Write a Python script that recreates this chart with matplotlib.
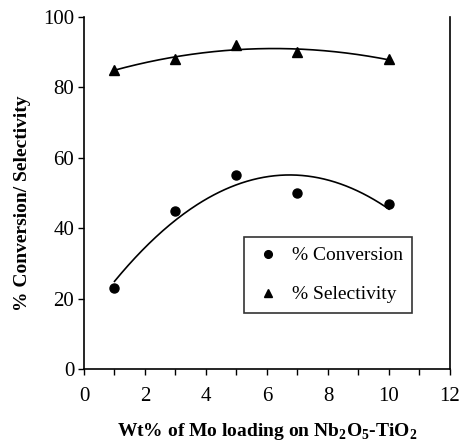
import numpy as np
import matplotlib
matplotlib.use('Agg')
import matplotlib.pyplot as plt

plt.rcParams['font.family'] = ['Liberation Serif', 'DejaVu Serif']
plt.rcParams['mathtext.fontset'] = 'custom'
plt.rcParams['mathtext.rm'] = 'Liberation Serif'
plt.rcParams['mathtext.bf'] = 'Liberation Serif:bold'

mo_loading = [1, 3, 5, 7, 10]
conversion = [23, 45, 55, 50, 47]
selectivity = [85, 88, 92, 90, 88]

fig = plt.figure(figsize=(4.6, 4.41), dpi=100)
ax = fig.add_axes([84 / 460, 1 - 369 / 441, 366 / 460, 352 / 441])

# 二次趨勢線
xs = np.linspace(1, 10, 200)
c_fit = np.polyfit(mo_loading, conversion, 2)
s_fit = np.polyfit(mo_loading, selectivity, 2)
ax.plot(xs, np.polyval(c_fit, xs), color='black', lw=1.2)
ax.plot(xs, np.polyval(s_fit, xs), color='black', lw=1.2)

ax.plot(mo_loading, conversion, 'o', color='black', ms=6.5, label='% Conversion')
ax.plot(mo_loading, selectivity, '^', color='black', ms=7, label='% Selectivity')

ax.set_xlim(0, 12)
ax.set_ylim(0, 100)
ax.set_xticks(range(0, 13, 2))
ax.set_xticks(range(0, 13), minor=True)
ax.set_yticks(range(0, 101, 20))
ax.tick_params(axis='both', direction='out', length=4, width=1, labelsize=15)
ax.tick_params(axis='x', which='minor', direction='out', length=4, width=1)
ax.tick_params(axis='x', pad=9)
ax.tick_params(axis='y', pad=3)
ax.spines['top'].set_visible(False)
for s in ['left', 'bottom', 'right']:
    ax.spines[s].set_linewidth(1.2)

ax.set_xlabel(r'Wt% of Mo loading on Nb$_\mathbf{2}$O$_\mathbf{5}$-TiO$_\mathbf{2}$',
              fontsize=14, fontweight='bold')
ax.xaxis.set_label_coords(0.5, -0.148)
ax.set_ylabel('% Conversion/ Selectivity', fontsize=14, fontweight='bold')
ax.yaxis.set_label_coords(-0.145, 0.47)

leg = ax.legend(loc='upper left', bbox_to_anchor=(0.437, 0.375), fontsize=14,
                frameon=True, fancybox=False, edgecolor='black', handletextpad=0.45,
                borderpad=0.5, borderaxespad=0, labelspacing=1.1, handlelength=1.5,
                markerscale=0.85)
leg.get_frame().set_linewidth(1.2)

fig.savefig('out.png', dpi=100)
